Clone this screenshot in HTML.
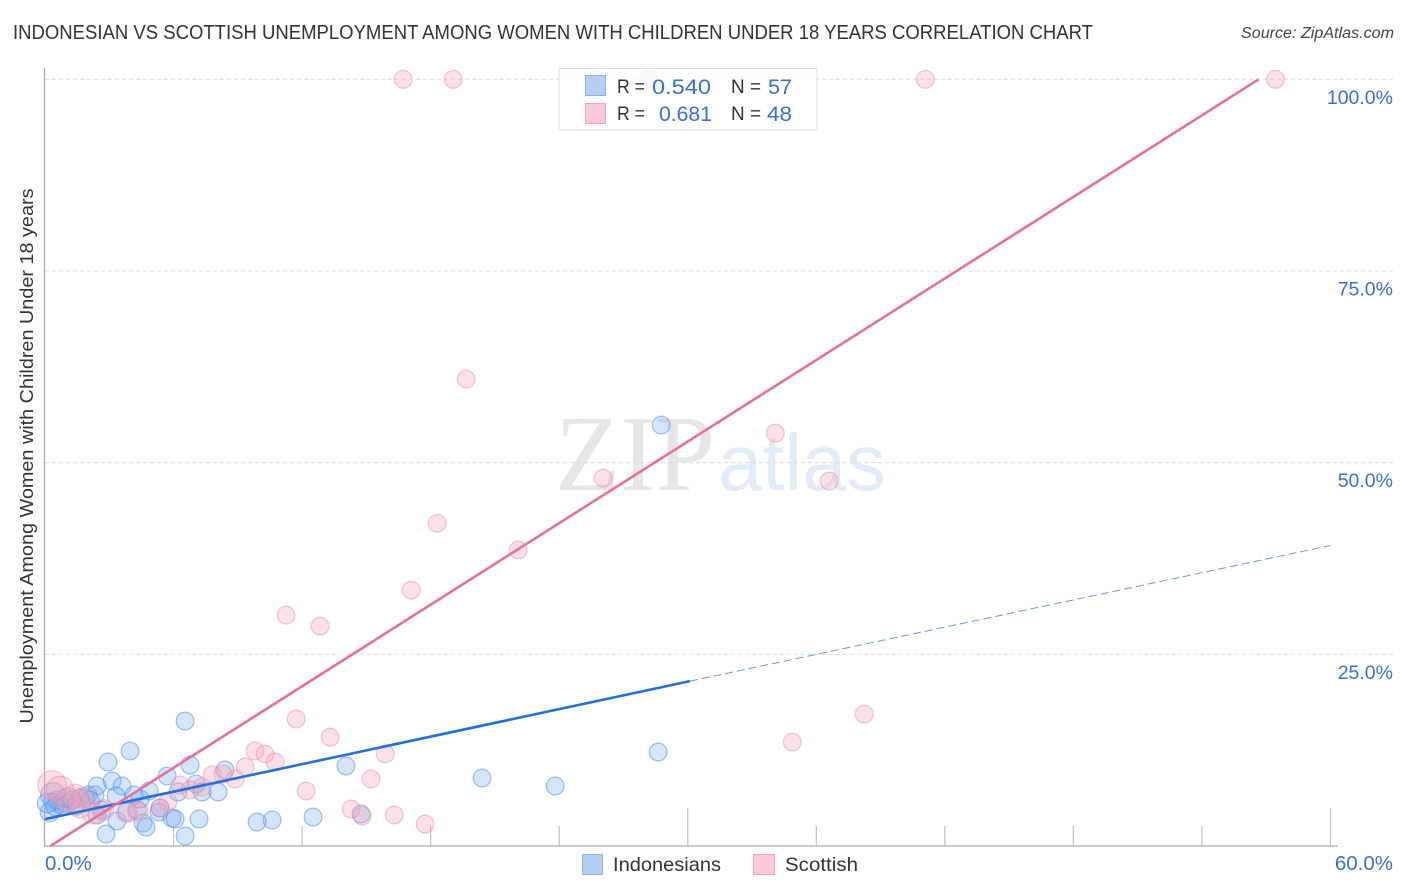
<!DOCTYPE html>
<html>
<head>
<meta charset="utf-8">
<title>Indonesian vs Scottish Unemployment Correlation Chart</title>
<style>
html,body{margin:0;padding:0;background:#fff;}
svg{display:block;font-family:"Liberation Sans",sans-serif;}
</style>
</head>
<body>
<svg id="chart" width="1406" height="892" viewBox="0 0 1406 892" xmlns="http://www.w3.org/2000/svg">
  <rect x="0" y="0" width="1406" height="892" fill="#fff"/>
  <text x="13" y="39" font-size="20" fill="#333" textLength="1080" lengthAdjust="spacingAndGlyphs">INDONESIAN VS SCOTTISH UNEMPLOYMENT AMONG WOMEN WITH CHILDREN UNDER 18 YEARS CORRELATION CHART</text>
  <text x="1241" y="38" font-size="15.5" font-style="italic" fill="#444" textLength="153" lengthAdjust="spacingAndGlyphs">Source: ZipAtlas.com</text>
  <text x="555" y="490" font-family="'Liberation Serif',serif" font-size="108" fill="#e6e6e6" textLength="160" lengthAdjust="spacingAndGlyphs">ZIP</text>
  <text x="718" y="490" font-size="80" fill="#e2ebf8" textLength="168" lengthAdjust="spacingAndGlyphs">atlas</text>
  <g id="grid"></g>
  <g id="axes"></g>
  <g id="marks-indonesians"></g>
  <g id="marks-scottish"></g>
  <g id="trends"></g>
  <g id="labels"></g>
  <text transform="translate(33,456) rotate(-90)" text-anchor="middle" font-size="18.5" fill="#333" textLength="535" lengthAdjust="spacingAndGlyphs">Unemployment Among Women with Children Under 18 years</text>

  <g>
    <rect x="559" y="68.5" width="258" height="61.5" fill="#fff" fill-opacity="0.8" stroke="#dedede" stroke-width="1"/>
    <rect x="585.5" y="75.5" width="20" height="20" fill="#b5cff3" stroke="#8db2ea"/>
    <rect x="585.5" y="103.5" width="20" height="20" fill="#fcc8da" stroke="#f2a3bd"/>
    <text x="617" y="93" font-size="19.5" fill="#333" textLength="28" lengthAdjust="spacingAndGlyphs">R =</text>
    <text x="652" y="94" font-size="21.5" fill="#3a70d2" textLength="59" lengthAdjust="spacingAndGlyphs">0.540</text>
    <text x="731" y="93" font-size="19.5" fill="#333" textLength="30" lengthAdjust="spacingAndGlyphs">N =</text>
    <text x="768" y="94" font-size="21.5" fill="#3a70d2" textLength="24" lengthAdjust="spacingAndGlyphs">57</text>
    <text x="617" y="120" font-size="19.5" fill="#333" textLength="28" lengthAdjust="spacingAndGlyphs">R =</text>
    <text x="659" y="121" font-size="21.5" fill="#3a70d2" textLength="53" lengthAdjust="spacingAndGlyphs">0.681</text>
    <text x="731" y="120" font-size="19.5" fill="#333" textLength="30" lengthAdjust="spacingAndGlyphs">N =</text>
    <text x="767" y="121" font-size="21.5" fill="#3a70d2" textLength="25" lengthAdjust="spacingAndGlyphs">48</text>
  </g>

  <g>
    <rect x="582.5" y="854.5" width="20" height="20" fill="#b5cff3" stroke="#8db2ea"/>
    <text x="613" y="871" font-size="19.5" fill="#333" textLength="108" lengthAdjust="spacingAndGlyphs">Indonesians</text>
    <rect x="753.5" y="854.5" width="21" height="20" fill="#fcc8da" stroke="#f2a3bd"/>
    <text x="785" y="871" font-size="19.5" fill="#333" textLength="73" lengthAdjust="spacingAndGlyphs">Scottish</text>
  </g>
</svg>
<script>
var indonesiansX = [28.76,28.62,23.81,20.40,14.05,14.75,12.51,10.6,9.9,8.4,6.54,3.97,2.94,6.77,5.7,2.43,3.13,3.6,7.05,7.33,8.08,4.86,4.16,3.32,4.44,6.21,5.32,5.37,3.36,2.85,4.58,4.72,5.93,6.07,7.19,6.54,2.66,2.43,3.83,4.3,2.0,2.33,0.37,0.37,0.7,1.03,0.23,1.63,1.87,0.56,0.84,1.26,1.45,0.1,0.98,2.1,0.47];
var indonesiansY = [54.9,12.26,7.82,8.87,10.43,4.17,3.78,3.39,3.13,9.91,16.3,12.39,10.95,10.56,9.13,7.82,8.47,7.82,8.08,7.04,7.04,7.17,6.65,6.52,6.13,7.04,4.43,4.95,3.26,1.56,3.0,2.48,3.65,3.52,3.52,1.3,4.69,4.04,4.43,4.69,6.65,6.65,6.65,5.74,5.48,5.61,4.43,6.26,6.26,6.0,5.2,6.0,5.2,5.6,6.26,6.0,5.1];
var indonesiansWeight = [1,1,1,1,1,1,1,1,1,1,1,1,1,1,1,1,1,1,1,1,1,1,1,1,1,1,1,1,1,1,1,1,1,1,1,1,1,1,1,1,1,1,1.9,1,1,1,1.2,1,1,1,1,1,1,1.2,1,1,1];
var scottishX = [16.72,19.05,25.73,28.16,41.09,57.43,19.66,34.09,36.6,26.05,18.3,22.09,17.09,11.25,12.84,11.72,38.24,34.88,13.31,15.88,15.22,12.19,14.29,14.8,16.3,17.74,9.8,10.27,10.74,9.34,8.87,7.8,8.31,6.3,6.77,7.33,5.74,5.37,4.34,3.83,2.71,2.24,1.63,1.4,1.77,0.33,0.7,1.07];
var scottishY = [100,100,100,100,100,100,60.9,53.85,47.6,47.98,42.1,38.6,33.38,30.12,28.68,16.56,17.2,13.56,14.2,12.0,8.74,7.17,4.82,3.91,4.04,2.87,12.39,12.0,10.95,10.3,8.74,9.26,9.39,7.95,7.3,7.69,5.74,4.95,4.56,4.43,4.69,4.3,5.08,6.65,6.26,7.95,7.3,6.0];
var scottishWeight = [1,1,1,1,1,1,1,1,1,1,1,1,1,1,1,1,1,1,1,1,1,1,1,1,1,1,1,1,1,1,1,1,1,1,1,1,1,1,1.3,1.4,1.4,1.5,1.5,1.5,1.4,2.6,2.4,1.9];

function xScale(v){ return 45 + v * (1330.5 - 45) / 60; }
function yScale(v){ return 846 - v * (846 - 79.3) / 100; }
function radius(w){ return 8.9 * Math.sqrt(w); }

var indonesiansTrendX = [0, 30.1];
var indonesiansTrendY = [3.5, 21.5];
var indonesiansProjectionX = [30.1, 60];
var indonesiansProjectionY = [21.5, 39.2];
var scottishTrendX = [0.25, 56.65];
var scottishTrendY = [0, 100];
var xTickValues = [0,6,12,18,24,30,36,42,48,54,60];
var xMajorTicks = [0,30,60];
var xEndLabels = ["0.0%","60.0%"];
var yGridValues = [25,50,75,100];
var yTickLabels = ["25.0%","50.0%","75.0%","100.0%"];

var NS = 'http://www.w3.org/2000/svg';
function mk(tag, attrs, parent){
  var el = document.createElementNS(NS, tag);
  for (var k in attrs){ el.setAttribute(k, attrs[k]); }
  parent.appendChild(el);
  return el;
}

var grid = document.getElementById('grid');
yGridValues.forEach(function(v){
  var line = mk('line', {x1:45, x2:1393, y1:yScale(v), y2:yScale(v), stroke:'#dcdcdc', 'stroke-width':1, 'stroke-dasharray':'4 3'}, grid);
  
  
});

var axes = document.getElementById('axes');
var yAxis = mk('line', {x1:44.5, x2:44.5, y1:68, y2:846.5, stroke:'#aaa', 'stroke-width':1.2}, axes);


var xAxis = mk('line', {x1:44, x2:1338, y1:846, y2:846, stroke:'#aaa', 'stroke-width':1.2}, axes);


xTickValues.slice(1).forEach(function(v){
  var top = xMajorTicks.indexOf(v) >= 0 ? 808 : 826;
  var tick = mk('line', {x1:xScale(v), x2:xScale(v), y1:top, y2:846, stroke:'#c0c0c0', 'stroke-width':1.2}, axes);
  
  
});

function drawPoints(groupId, xs, ys, ws, fill, stroke, name){
  var g = document.getElementById(groupId);
  xs.forEach(function(x, i){
    var c = mk('circle', {cx:xScale(x), cy:yScale(ys[i]), r:radius(ws[i]), fill:fill, stroke:stroke, 'stroke-width':1.2}, g);
    
    
  });
}
drawPoints('marks-indonesians', indonesiansX, indonesiansY, indonesiansWeight, 'rgba(125,175,240,0.33)', 'rgba(70,135,225,0.5)', 'indonesians-point');
drawPoints('marks-scottish', scottishX, scottishY, scottishWeight, 'rgba(245,160,185,0.33)', 'rgba(238,140,170,0.5)', 'scottish-point');

var trends = document.getElementById('trends');
var projection = mk('line', {x1:xScale(indonesiansProjectionX[0]), y1:yScale(indonesiansProjectionY[0]), x2:xScale(indonesiansProjectionX[1]), y2:yScale(indonesiansProjectionY[1]), stroke:'#6a9ade', 'stroke-width':1, 'stroke-dasharray':'8 4'}, trends);


var blueTrend = mk('line', {x1:xScale(indonesiansTrendX[0]), y1:yScale(indonesiansTrendY[0]), x2:xScale(indonesiansTrendX[1]), y2:yScale(indonesiansTrendY[1]), stroke:'#2370d8', 'stroke-width':2.6}, trends);


var pinkTrend = mk('line', {x1:xScale(scottishTrendX[0]), y1:yScale(scottishTrendY[0]), x2:xScale(scottishTrendX[1]), y2:yScale(scottishTrendY[1]), stroke:'#e8709a', 'stroke-width':2.6}, trends);



var labels = document.getElementById('labels');
yGridValues.forEach(function(v, i){
  var t = mk('text', {x:1393, y:yScale(v) + 24.5, 'text-anchor':'end', 'font-size':19.5, fill:'#3a70d2'}, labels);
  t.textContent = yTickLabels[i];
  
  
});
var x0 = mk('text', {x:45, y:870, 'font-size':20.5, fill:'#3a70d2'}, labels);
x0.textContent = xEndLabels[0];


var x1 = mk('text', {x:1393, y:870, 'text-anchor':'end', 'font-size':20.5, fill:'#3a70d2'}, labels);
x1.textContent = xEndLabels[1];


</script>
</body>
</html>
